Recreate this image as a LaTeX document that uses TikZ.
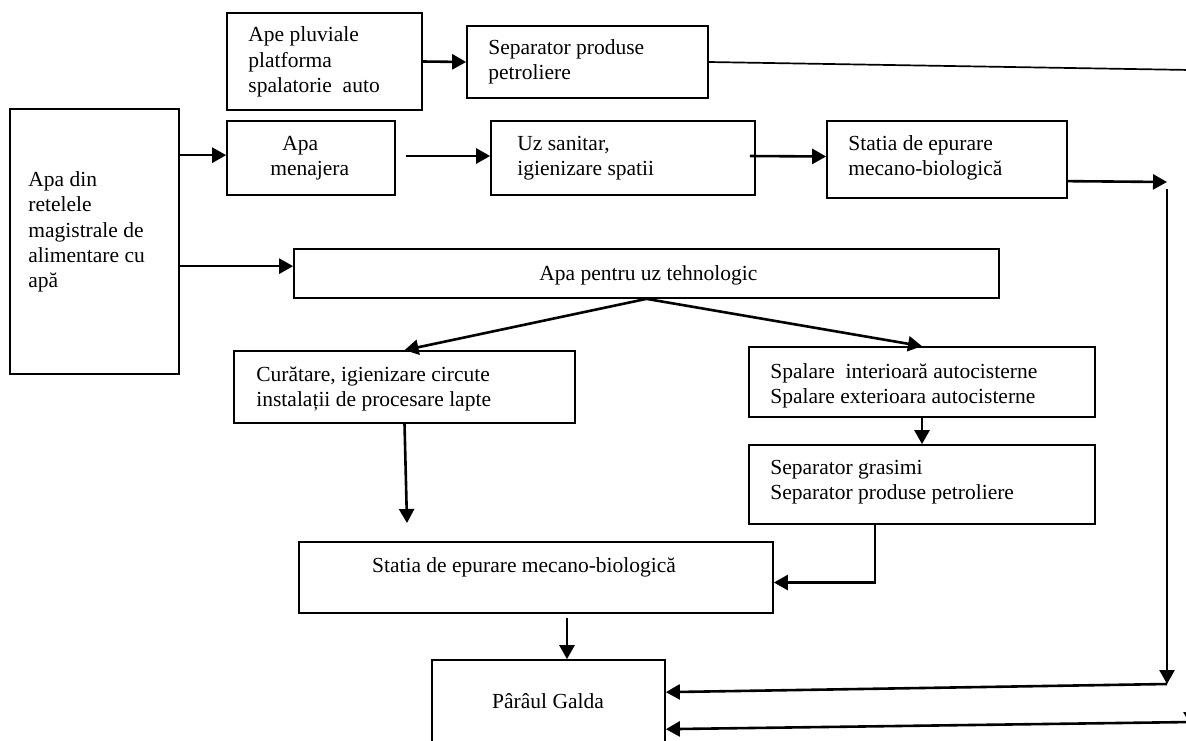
\documentclass[tikz,border=0pt]{standalone}
\usepackage{fontspec}
\setmainfont{Liberation Serif}
\usetikzlibrary{arrows.meta,calc,fit}
\begin{document}
\begin{tikzpicture}[x=0.5pt,y=-0.5pt,
 box/.style={draw, line width=0.85pt, inner sep=0pt, rectangle},
 lbl/.style={inner sep=0pt, align=left, font=\fontsize{10.75}{12.6}\selectfont},
 arr/.style={line width=1.3pt, -{Triangle[length=7pt,width=7.5pt]}},
 thin/.style={line width=0.85pt}]
\useasboundingbox (0,0) rectangle (1186,740);
\fill[white] (0,0) rectangle (1186,740);
\clip (0,0) rectangle (1186,740);

% boxes
\node[box, fit={(10,109) (179,374)}] (apadin) {};
\node[box, fit={(227,13) (422,110)}] (ape) {};
\node[box, fit={(467,26) (708,98)}] (sep1) {};
\node[box, fit={(227,121) (395,195)}] (men) {};
\node[box, fit={(491,121) (755,195)}] (uz) {};
\node[box, fit={(827,121) (1067,198)}] (st1) {};
\node[box, fit={(294,249) (999,298)}] (tehn) {};
\node[box, fit={(234,351) (575,423)}] (cur) {};
\node[box, fit={(749,347) (1095,417)}] (spal) {};
\node[box, fit={(749,445) (1095,524)}] (sepg) {};
\node[box, fit={(299,542) (773,613)}] (st2) {};
\node[box, fit={(432,660) (665,800)}] (par) {};

% labels
\node[lbl, anchor=west] (tapadin) at (28,232) {Apa din\\retelele\\magistrale de\\alimentare cu\\apă};
\node[lbl, anchor=west] (tape) at (248,62) {Ape pluviale\\platforma\\spalatorie\ \ auto};
\node[lbl, anchor=west] (tsep1) at (488,62) {Separator produse\\petroliere};
\node[lbl, anchor=west] (tmen) at (270,158) {\hspace{6pt}Apa\\menajera};
\node[lbl, anchor=west] (tuz) at (517,158) {Uz sanitar,\\igienizare spatii};
\node[lbl, anchor=west] (tst1) at (848,158) {Statia de epurare\\mecano-biologică};
\node[lbl, anchor=west] (ttehn) at (539,275) {Apa pentru uz tehnologic};
\node[lbl, anchor=west] (tcur) at (256,389) {Curătare, igienizare circute\\instalații de procesare lapte};
\node[lbl, anchor=west] (tspal) at (770,386) {Spalare\ \ interioară autocisterne\\Spalare exterioara autocisterne};
\node[lbl, anchor=west] (tsepg) at (770,482) {Separator grasimi\\Separator produse petroliere};
\node[lbl, anchor=center] (tst2) at (524,567) {Statia de epurare mecano-biologică};
\node[lbl, anchor=center] (tpar) at (548,701) {Pârâul Galda};

% free coordinates
\coordinate (c1) at (1191,70);
\coordinate (c2) at (1191,726);
\coordinate (c2b) at (1191,722);
\coordinate (r1) at (1167,182);
\coordinate (r2) at (1167,189);
\coordinate (r3) at (1167,684);
\coordinate (cf) at (407,523);

% connectors
\draw[arr] (ape.east) -- (sep1.west);
\draw[thin] (sep1.east) -- (c1);
\draw[arr] (c1) -- (c2);
\draw[arr] (c2b) -- ($(par.north east)+(0,70)$);
\draw[arr] ($(apadin.north east)+(0,47)$) -- ($(men.north west)+(0,35)$);
\draw[arr] ($(apadin.north east)+(0,158)$) -- ($(tehn.north west)+(0,18)$);
\draw[arr] ($(men.east)+(10,-2)$) -- ($(uz.west)+(0,-2)$);
\draw[arr] ($(uz.east)+(-6,-2)$) -- ($(st1.west)+(0,-3)$);
\draw[arr] ($(st1.north east)+(0,61)$) -- (r1);
\draw[arr] (r2) -- (r3);
\draw[arr] (r3) -- ($(par.north east)+(0,33)$);
\draw[arr] (tehn.south) -- (cur.north);
\draw[arr] (tehn.south) -- (spal.north);
\draw[arr] (cur.south) -- (cf);
\draw[arr] ($(st2.south)+(31,4)$) -- ($(par.north)+(18.5,0)$);
\draw[arr] (spal.south) -- (sepg.north);
\draw[arr] ($(sepg.south)+(-47,0)$) |- ($(st2.east)+(0,5)$);
\end{tikzpicture}
\end{document}
